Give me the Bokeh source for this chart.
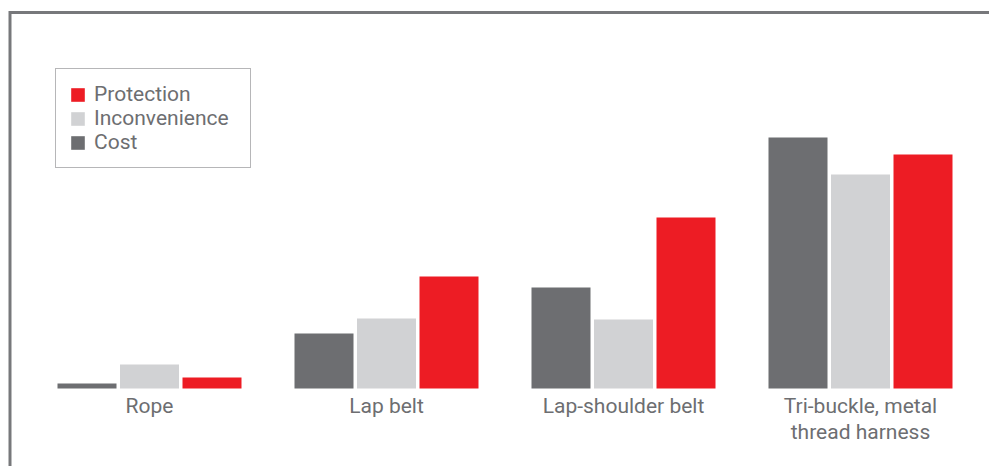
import numpy as np
from bokeh.plotting import figure
from bokeh.models import Range1d, Legend, LegendItem, ColumnDataSource
from bokeh.core.properties import value
from bokeh.embed import file_html
from bokeh.resources import INLINE

# ---- data ----
categories = ["Rope", "Lap belt", "Lap-shoulder belt", "Tri-buckle, metal\nthread harness"]
cost = [5, 55, 101, 251]
inconvenience = [24, 70, 69, 214]
protection = [11, 112, 171, 234]

series_names = ["Cost", "Inconvenience", "Protection"]
series_colors = ["#6d6e71", "#d1d2d4", "#ed1c24"]

W, H = 989, 466
px_per_group = 237.0
x0 = -149.0 / px_per_group
x1 = x0 + W / px_per_group
baseline_px = 388
y0 = -(H - baseline_px)
y1 = baseline_px

p = figure(width=W, height=H, output_backend="svg", toolbar_location=None,
           x_range=Range1d(x0, x1), y_range=Range1d(y0, y1),
           min_border=0, min_border_left=0, min_border_right=0,
           min_border_top=0, min_border_bottom=0)
p.axis.visible = False
p.grid.visible = False
p.outline_line_color = None
p.background_fill_color = "white"
p.border_fill_color = "white"

groups = np.arange(len(categories))
bar_w = 59.0 / px_per_group
step = 62.5 / px_per_group
renderers = {}
for i, (name, vals, col) in enumerate(zip(series_names, [cost, inconvenience, protection], series_colors)):
    src = ColumnDataSource(dict(x=groups + (i - 1) * step, top=vals))
    r = p.vbar(x="x", top="top", bottom=0, width=bar_w, source=src,
               fill_color=col, line_color=None)
    renderers[name] = r

# category labels
lab_src = ColumnDataSource(dict(x=groups, y=[-5] * len(categories), text=categories))
p.text(x="x", y="y", text="text", source=lab_src, text_align="center",
       text_baseline="top", text_font=value("Roboto"), text_font_size="21px",
       text_color="#6d6e71", text_line_height=1.1)

# frame lines (top and left), meeting at the corner
frame_col = "#77787b"
xl = x0 + 9.5 / px_per_group
yt = baseline_px - 12
p.line(x=[xl, xl, x1 + 1], y=[y0 - 10, yt, yt], line_color=frame_col, line_width=3,
       line_join="miter")

legend = Legend(items=[LegendItem(label="Protection", renderers=[renderers["Protection"]]),
                       LegendItem(label="Inconvenience", renderers=[renderers["Inconvenience"]]),
                       LegendItem(label="Cost", renderers=[renderers["Cost"]])],
                location=(55, 298), orientation="vertical",
                glyph_width=17, glyph_height=17, label_height=20, label_width=143,
                spacing=0, padding=13, margin=0, label_standoff=8,
                label_text_font="Roboto", label_text_font_size="21px",
                label_text_color="#6d6e71", label_text_line_height=1.0,
                border_line_color="#6d6e71", border_line_width=1,
                background_fill_alpha=1.0)
p.add_layout(legend, "center")

open("out.html", "w").write(file_html(p, INLINE))
